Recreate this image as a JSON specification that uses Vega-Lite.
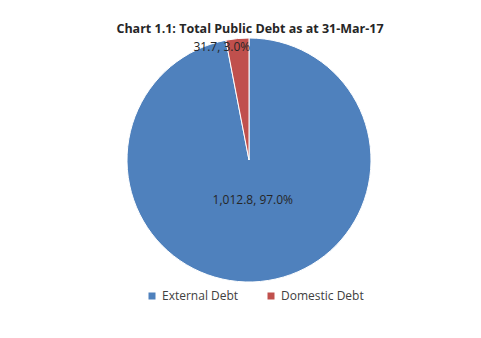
{
  "$schema": "https://vega.github.io/schema/vega-lite/v6.json",
  "width": 470,
  "height": 328,
  "autosize": {"type": "none"},
  "padding": {"left": 11, "top": 10, "right": 0, "bottom": 0},
  "background": "white",
  "view": {"fill": "white", "stroke": null},
  "title": {
    "text": "Chart 1.1: Total Public Debt as at 31-Mar-17",
    "font": "Open Sans",
    "fontSize": 12.5,
    "fontWeight": "bold",
    "color": "#262626",
    "offset": -25,
    "dx": 4
  },
  "data": {
    "values": [
      {"category": "External Debt", "value": 1012.8},
      {"category": "Domestic Debt", "value": 31.7}
    ]
  },
  "transform": [
    {"joinaggregate": [{"op": "sum", "field": "value", "as": "total"}]},
    {"calculate": "format(datum.value, ',.1f') + ', ' + format(datum.value / datum.total, '.1%')", "as": "label"}
  ],
  "encoding": {
    "theta": {"field": "value", "type": "quantitative", "stack": true},
    "order": {"field": "value", "sort": "descending"}
  },
  "layer": [
    {
      "mark": {
        "type": "arc",
        "outerRadius": 122,
        "stroke": "white",
        "strokeWidth": 1,
        "x": {"expr": "width / 2 + 3"},
        "y": {"expr": "height / 2 - 14"}
      },
      "encoding": {
        "color": {
          "field": "category",
          "type": "nominal",
          "scale": {"domain": ["External Debt", "Domestic Debt"], "range": ["#4F81BD", "#C0504D"]},
          "legend": {
            "orient": "none",
            "legendX": 135,
            "legendY": 280,
            "direction": "horizontal",
            "title": null,
            "symbolType": "square",
            "symbolSize": 49,
            "symbolStrokeWidth": 0,
            "labelFont": "Open Sans",
            "labelFontSize": 12,
            "labelColor": "#404040",
            "labelOffset": 4,
            "columnPadding": 26
          }
        }
      }
    },
    {
      "mark": {
        "type": "text",
        "radius": 40,
        "font": "Open Sans",
        "fontSize": 12,
        "color": "#262626",
        "x": {"expr": "width / 2 + 3"},
        "y": {"expr": "height / 2 - 14"}
      },
      "encoding": {
        "text": {"condition": {"test": "datum.category === 'External Debt'", "field": "label", "type": "nominal"}, "value": ""}
      }
    },
    {
      "mark": {
        "type": "text",
        "radius": 117,
        "dx": -16,
        "dy": 3,
        "font": "Open Sans",
        "fontSize": 12,
        "color": "#262626",
        "x": {"expr": "width / 2 + 3"},
        "y": {"expr": "height / 2 - 14"}
      },
      "encoding": {
        "text": {"condition": {"test": "datum.category === 'Domestic Debt'", "field": "label", "type": "nominal"}, "value": ""}
      }
    }
  ]
}
